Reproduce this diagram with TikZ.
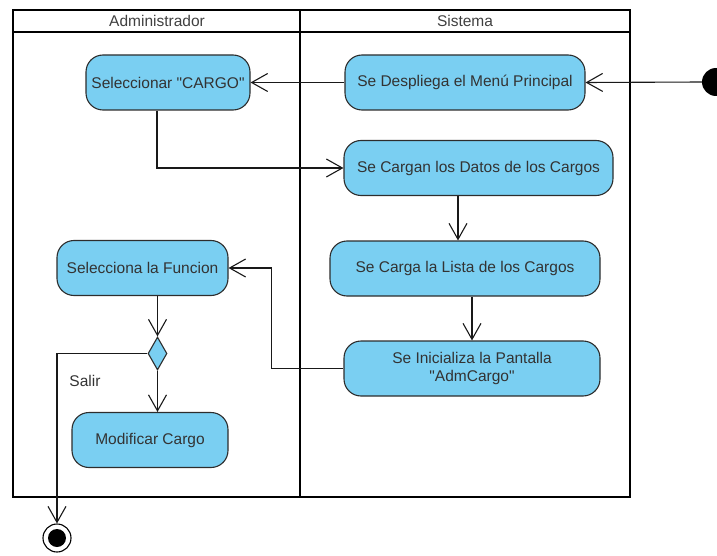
\documentclass[tikz,border=0pt]{standalone}
\usepackage{fontspec}
\setmainfont{Liberation Sans}
\usetikzlibrary{arrows.meta,shapes.geometric}
\definecolor{actblue}{RGB}{122,207,242}
\definecolor{actline}{RGB}{45,45,45}

\begin{document}
\begin{tikzpicture}[x=1pt,y=-1pt,>={Straight Barb[length=16pt,width=18pt]},
  font=\fontsize{15.5}{18.5}\selectfont,
  lane/.style={line width=1.8pt,draw=black},
  act/.style={draw=actline,fill=actblue,line width=1.1pt,rounded corners=17pt,
    minimum height=55pt,inner sep=2pt,align=center,text=black!80},
  decision/.style={diamond,draw=actline,fill=actblue,line width=1.1pt,
    minimum width=19pt,minimum height=33pt,inner sep=0pt},
  flow/.style={->,line width=1.1pt,draw=black!90}]
\useasboundingbox (0,0) rectangle (717,556);
% swimlanes
\draw[lane] (13,10) rectangle (630,497);
\draw[lane] (13,32) -- (630,32);
\draw[lane] (300,10) -- (300,497);
\node[text=black!75] (admin) at (157,21) {Administrador};
\node[text=black!75] (sistema) at (465,21) {Sistema};
% start and end
\node[circle,fill=black,minimum size=28pt,inner sep=0pt] (ini0) at (716,82) {};
\node[circle,draw=black,line width=1.1pt,minimum size=28pt,inner sep=0pt] (fin) at (57,538) {};
\fill (fin) circle (9);
% actions
\node[act,minimum width=164pt] (sel) at (168,82.5) {Seleccionar \textquotedbl CARGO\textquotedbl};
\node[act,minimum width=240pt] (desp) at (465,82.5) {Se Despliega el Menú Principal};
\node[act,minimum width=269pt] (cargan) at (478.5,168) {Se Cargan los Datos de los Cargos};
\node[act,minimum width=270pt] (lista) at (465,268.5) {Se Carga la Lista de los Cargos};
\node[act,minimum width=256pt] (ini) at (472,368.5) {Se Inicializa la Pantalla\\\textquotedbl AdmCargo\textquotedbl};
\node[act,minimum width=171pt] (func) at (142.5,268) {Selecciona la Funcion};
\node[decision] (dec) at (157.5,353.5) {};
\node[act,minimum width=156pt] (modif) at (150,440) {Modificar Cargo};
\node[text=black!80] (salir) at (85,381) {Salir};
% flows
\draw[flow] (ini0.west) -- (desp.east);
\draw[flow] (desp.west) -- (sel.east);
\draw[flow] ([xshift=-11pt]sel.south) |- (cargan.west);
\draw[flow] ([xshift=-7pt]lista.north |- cargan.south) -- ([xshift=-7pt]lista.north);
\draw[flow] (ini.north |- lista.south) -- (ini.north);
\draw[flow] (ini.west) -- ++(-72,0) |- (func.east);
\draw[flow] (dec.north |- func.south) -- (dec.north);
\draw[flow] (dec.south) -- (dec.south |- modif.north);
\draw[flow] (dec.west) -| (fin.north);
\end{tikzpicture}
\end{document}
